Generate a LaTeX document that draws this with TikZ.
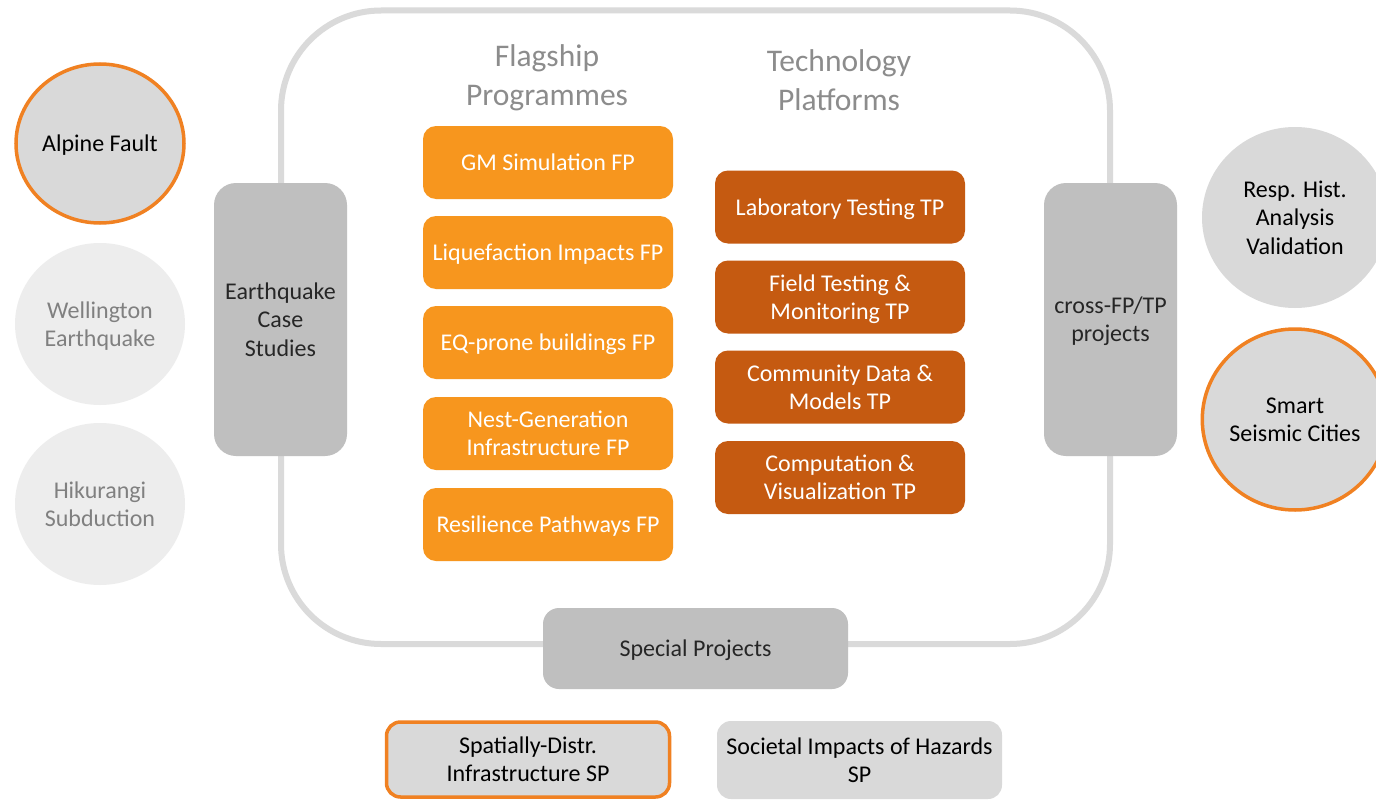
\documentclass[tikz,border=0pt]{standalone}
\usepackage{fontspec}
\setmainfont{Carlito}
\usetikzlibrary{shapes.geometric}
\definecolor{fporange}{HTML}{F7961E}
\definecolor{tporange}{HTML}{C55A11}
\definecolor{ringorange}{HTML}{F08122}
\definecolor{boxgrey}{HTML}{BFBFBF}
\definecolor{lightgrey}{HTML}{D9D9D9}
\definecolor{paler}{HTML}{EDEDED}
\definecolor{frame}{HTML}{DADADA}
\definecolor{darktext}{HTML}{262626}
\definecolor{softtext}{HTML}{808080}
\definecolor{headtext}{HTML}{8C8C8C}
\begin{document}
\begin{tikzpicture}[x=1pt,y=-1pt,
  base/.style={font=\fontsize{24}{28.3}\selectfont, align=center, inner sep=0pt, text depth=0pt},
  fpbox/.style={base, rectangle, rounded corners=13pt, fill=fporange, text=white, minimum width=250pt, minimum height=73pt},
  tpbox/.style={base, rectangle, rounded corners=13pt, fill=tporange, text=white, minimum width=250pt, minimum height=73pt},
  sidebox/.style={base, rectangle, rounded corners=22pt, fill=boxgrey, text=darktext, minimum width=133pt, minimum height=273pt},
  spbox/.style={base, rectangle, rounded corners=16pt, fill=boxgrey, text=darktext, minimum width=305pt, minimum height=81pt},
  subbox/.style={base, rectangle, rounded corners=14pt, fill=lightgrey, text=black, minimum width=285pt, minimum height=78pt},
  disc/.style={base, ellipse, minimum width=170pt, minimum height=162pt},
  ring/.style={draw=ringorange, line width=3.5pt},
  header/.style={font=\fontsize{31.5}{39}\selectfont, align=center, inner sep=0pt, text=headtext}
]
\useasboundingbox (0,0) rectangle (1376,800);
\fill[white] (0,0) rectangle (1376,800);

% frame
\draw[frame, line width=6pt, rounded corners=100pt] (281,10.5) rectangle (1110,644);

% headers
\node[header] (hfp) at (547,78) {Flagship\\Programmes};
\node[header] (htp) at (839,80) {Technology\\Platforms};

% flagship programmes
\node[fpbox] (fp1) at (548,162.5) {GM Simulation FP};
\node[fpbox] (fp2) at (548,252.5) {Liquefaction Impacts FP};
\node[fpbox] (fp3) at (548,342.5) {EQ-prone buildings FP};
\node[fpbox] (fp4) at (548,433.5) {Nest-Generation\\Infrastructure FP};
\node[fpbox] (fp5) at (548,524.5) {Resilience Pathways FP};

% technology platforms
\node[tpbox] (tp1) at (840,207) {Laboratory Testing TP};
\node[tpbox] (tp2) at (840,297) {Field Testing \&\\Monitoring TP};
\node[tpbox] (tp3) at (840,387) {Community Data \&\\Models TP};
\node[tpbox] (tp4) at (840,477.5) {Computation \&\\Visualization TP};

% side boxes
\node[sidebox] (eq) at (280.5,319.5) {Earthquake\\Case\\Studies};
\node[sidebox] (cross) at (1110.5,319.5) {cross-FP/TP\\projects};
\node[spbox] (sp) at (695.5,648.5) {Special Projects};

% left discs
\node[disc, fill=lightgrey, ring, text=black, minimum width=168pt, minimum height=159pt] (alp) at (100,143.5) {Alpine Fault};
\node[disc, fill=paler, text=softtext] (wel) at (100,324) {Wellington\\Earthquake};
\node[disc, fill=paler, text=softtext] (hik) at (100,504) {Hikurangi\\Subduction};

% right discs
\node[disc, fill=lightgrey, text=black, minimum width=186pt, minimum height=181pt] (rha) at (1295,217.5) {Resp. Hist.\\Analysis\\Validation};
\node[disc, fill=lightgrey, ring, text=black, minimum width=181pt, minimum height=181pt] (ssc) at (1295,419.5) {Smart\\Seismic Cities};

% bottom special projects
\node[subbox, ring, minimum width=283pt, minimum height=75pt] (sdi) at (528,759.5) {Spatially-Distr.\\Infrastructure SP};
\node[subbox] (sih) at (859.5,760) {Societal Impacts of Hazards\\SP};
\end{tikzpicture}
\end{document}
